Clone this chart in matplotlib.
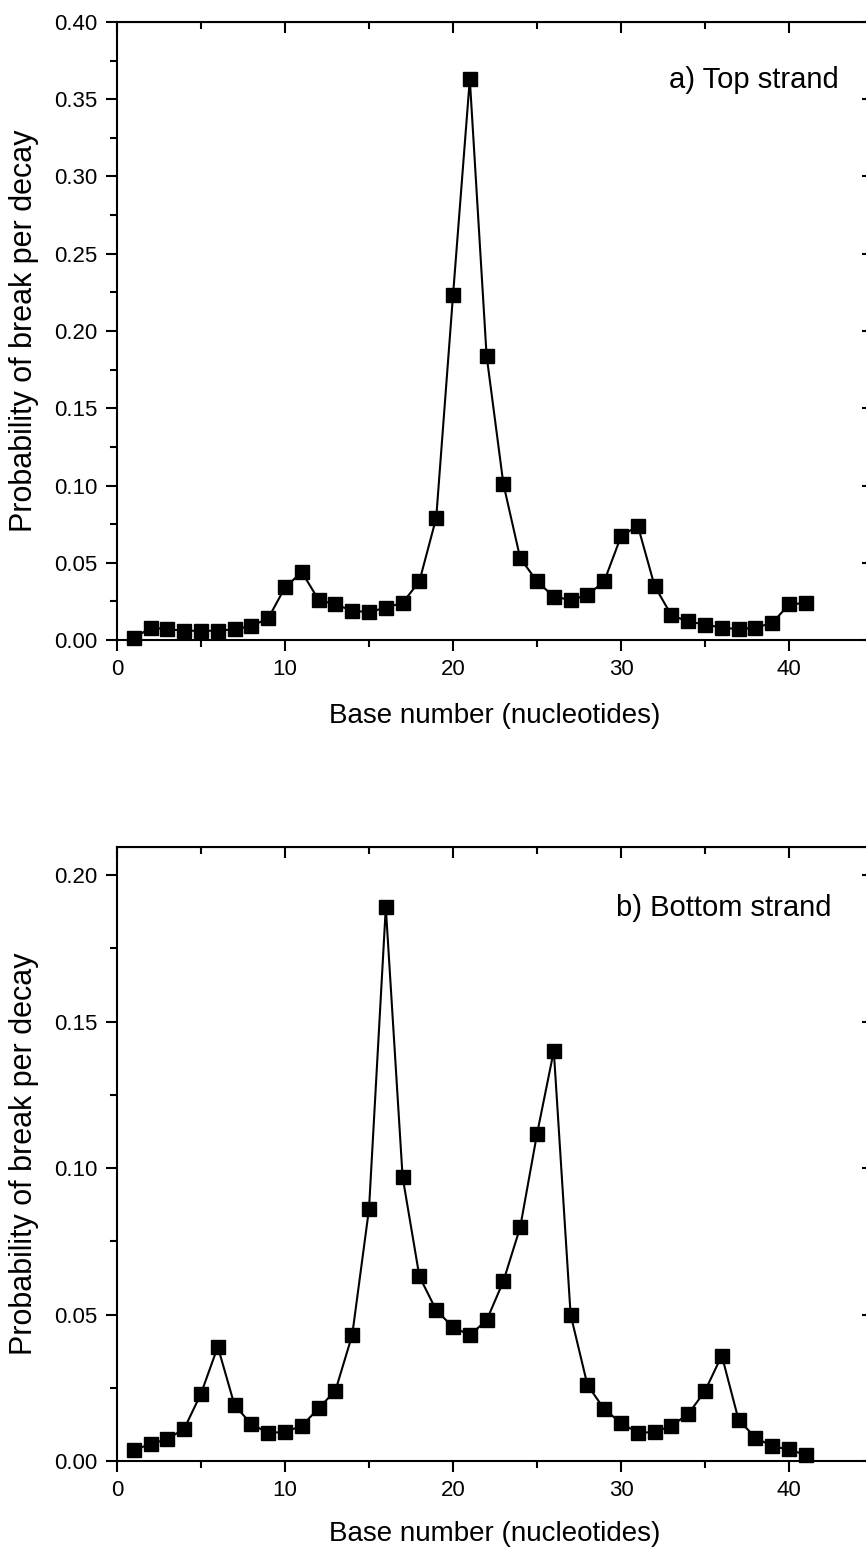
import matplotlib
matplotlib.use("Agg")
import matplotlib.pyplot as plt
from matplotlib.ticker import MultipleLocator

base = list(range(1, 42))

top_strand = [0.001, 0.008, 0.007, 0.006, 0.006, 0.006, 0.007, 0.009, 0.014, 0.034,
              0.044, 0.026, 0.023, 0.019, 0.018, 0.021, 0.024, 0.038, 0.079, 0.223,
              0.363, 0.184, 0.101, 0.053, 0.038, 0.028, 0.026, 0.029, 0.038, 0.067,
              0.074, 0.035, 0.016, 0.012, 0.010, 0.008, 0.007, 0.008, 0.011, 0.023,
              0.024]

bottom_strand = [0.0037, 0.0058, 0.0075, 0.011, 0.023, 0.039, 0.019, 0.0126, 0.0096, 0.0099,
                 0.012, 0.018, 0.024, 0.043, 0.086, 0.189, 0.097, 0.063, 0.0515, 0.0457,
                 0.043, 0.048, 0.0614, 0.0798, 0.1116, 0.140, 0.050, 0.026, 0.0177, 0.013,
                 0.0096, 0.0099, 0.012, 0.016, 0.0239, 0.036, 0.014, 0.008, 0.005, 0.004,
                 0.002]

plt.rcParams["font.family"] = ["Liberation Sans", "DejaVu Sans"]

W, H = 866, 1549
LEFT, RIGHT = 117, 873
fig = plt.figure(figsize=(W / 100, H / 100), dpi=100)


def _axes(px_top, px_bottom):
    return fig.add_axes([LEFT / W, 1 - px_bottom / H, (RIGHT - LEFT) / W,
                         (px_bottom - px_top) / H])


def _ticks(axis, **kw):
    axis.tick_params(which="both", width=1.5, **kw)
    axis.tick_params(which="major", length=8)
    axis.tick_params(which="minor", length=5)


def _panel(ax, y, ymax, ymajor, px_top, px_bottom, xlab_px):
    ax.plot(base, y, "-", color="black", lw=1.5, marker="s", ms=9.5,
            mfc="black", mec="black", clip_on=False)
    ax.set_xlim(0, 45)
    ax.set_ylim(0, ymax)
    ax.xaxis.set_major_locator(MultipleLocator(10))
    ax.xaxis.set_minor_locator(MultipleLocator(5))
    ax.yaxis.set_major_locator(MultipleLocator(ymajor))
    ax.yaxis.set_minor_locator(MultipleLocator(ymajor / 2))
    _ticks(ax, direction="out", top=False, right=False)
    ax.tick_params(which="major", labelsize=16, pad=6)
    ax.yaxis.set_major_formatter(plt.FuncFormatter(lambda v, p: f"{v:.2f}"))
    for s in ax.spines.values():
        s.set_linewidth(1.5)
    # inward ticks on the top and right sides
    tw = ax.secondary_xaxis("top")
    tw.xaxis.set_major_locator(MultipleLocator(10))
    tw.xaxis.set_minor_locator(MultipleLocator(5))
    _ticks(tw, direction="in", labeltop=False)
    rw = ax.secondary_yaxis("right")
    rw.yaxis.set_major_locator(MultipleLocator(ymajor))
    rw.yaxis.set_minor_locator(MultipleLocator(ymajor / 2))
    _ticks(rw, direction="in", labelright=False)

    ax.set_xlabel("Base number (nucleotides)", fontsize=20, va="center")
    ax.set_ylabel("Probability of break per decay", fontsize=22, va="center")
    ax.xaxis.set_label_coords(0.5, (px_bottom - xlab_px) / (px_bottom - px_top))
    ax.yaxis.set_label_coords((24 - LEFT) / (RIGHT - LEFT), 0.5)


ax1 = _axes(22, 640)
_panel(ax1, top_strand, 0.40, 0.05, 22, 640, 716)
ax1.text(839 / W, 1 - 80 / H, "a) Top strand", transform=fig.transFigure,
         ha="right", va="center", fontsize=21)

ax2 = _axes(847, 1461)
_panel(ax2, bottom_strand, 0.2096, 0.05, 847, 1461, 1534)
ax2.text(831 / W, 1 - 908 / H, "b) Bottom strand", transform=fig.transFigure,
         ha="right", va="center", fontsize=21)

fig.savefig("out.png", dpi=100)
